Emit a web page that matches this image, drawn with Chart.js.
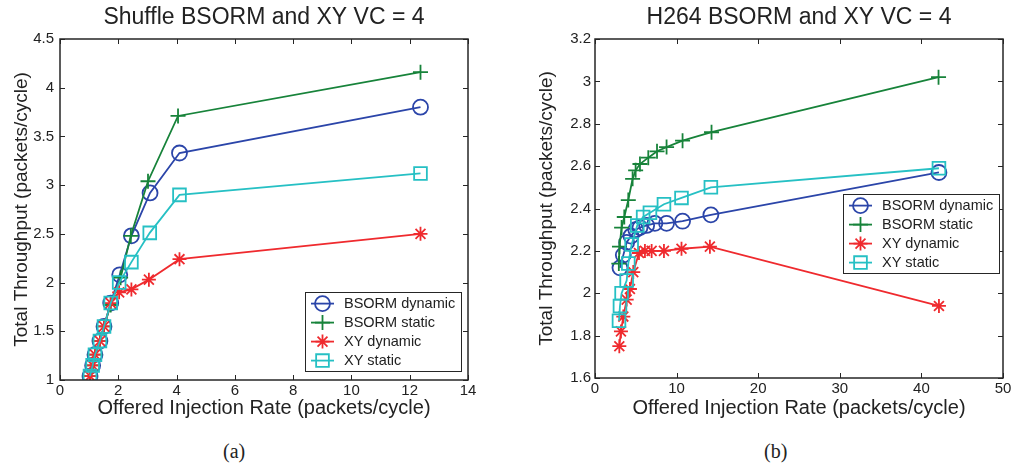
<!DOCTYPE html>
<html>
<head>
<meta charset="utf-8">
<script src="https://cdn.jsdelivr.net/npm/chart.js@4.4.1/dist/chart.umd.min.js"></script>
<style>
  body { margin: 0; background: #fff; width: 1015px; height: 467px; overflow: hidden; position: relative; }
  canvas { position: absolute; top: 0; }
  #shuffleChart { left: 0; }
  #h264Chart { left: 500px; }
  .cap { position: absolute; top: 440px; line-height: 24px; font: 20px "Liberation Serif", "Times New Roman", serif; color: #222; }
</style>
</head>
<body>
<canvas id="shuffleChart" width="500" height="430"></canvas>
<canvas id="h264Chart" width="515" height="430"></canvas>
<div class="cap" style="left:223px">(a)</div>
<div class="cap" style="left:764px">(b)</div>
<script>
// series names (legend order)
const seriesNames = ['BSORM dynamic', 'BSORM static', 'XY dynamic', 'XY static'];

// (a) Shuffle
const shuffleXTicks = [0, 2, 4, 6, 8, 10, 12, 14];
const shuffleYTicks = [1, 1.5, 2, 2.5, 3, 3.5, 4, 4.5];
const shuffleBsormDynX = [1.03, 1.12, 1.20, 1.37, 1.51, 1.74, 2.05, 2.45, 3.09, 4.10, 12.37];
const shuffleBsormDynY = [1.04, 1.15, 1.26, 1.40, 1.55, 1.79, 2.08, 2.48, 2.92, 3.33, 3.80];
const shuffleBsormStaX = [1.03, 1.12, 1.20, 1.37, 1.51, 1.74, 2.08, 2.43, 3.02, 4.05, 12.37];
const shuffleBsormStaY = [1.04, 1.15, 1.26, 1.40, 1.55, 1.77, 2.05, 2.48, 3.04, 3.71, 4.16];
const shuffleXyDynX = [1.03, 1.12, 1.20, 1.37, 1.51, 1.74, 2.03, 2.45, 3.05, 4.10, 12.37];
const shuffleXyDynY = [1.04, 1.15, 1.26, 1.40, 1.55, 1.79, 1.90, 1.93, 2.03, 2.24, 2.50];
const shuffleXyStaX = [1.03, 1.12, 1.20, 1.37, 1.51, 1.74, 2.03, 2.45, 3.08, 4.10, 12.37];
const shuffleXyStaY = [1.04, 1.15, 1.26, 1.40, 1.55, 1.79, 2.00, 2.21, 2.51, 2.90, 3.12];

// (b) H264
const h264XTicks = [0, 10, 20, 30, 40, 50];
const h264YTicks = [1.6, 1.8, 2, 2.2, 2.4, 2.6, 2.8, 3, 3.2];
const h264BsormDynX = [3.06, 3.47, 3.88, 4.41, 5.00, 5.51, 6.33, 7.34, 8.77, 10.73, 14.2, 42.15];
const h264BsormDynY = [2.12, 2.18, 2.24, 2.27, 2.30, 2.31, 2.32, 2.33, 2.33, 2.34, 2.37, 2.57];
const h264BsormStaX = [2.92, 3.00, 3.26, 3.59, 4.08, 4.61, 4.98, 5.51, 6.53, 7.60, 8.77, 10.73, 14.28, 42.1];
const h264BsormStaY = [2.14, 2.22, 2.31, 2.36, 2.44, 2.54, 2.58, 2.61, 2.64, 2.67, 2.69, 2.72, 2.76, 3.02];
const h264XyDynX = [2.98, 3.18, 3.47, 3.88, 4.28, 4.69, 5.39, 6.12, 6.94, 8.45, 10.6, 14.08, 42.15];
const h264XyDynY = [1.75, 1.82, 1.89, 1.97, 2.02, 2.10, 2.19, 2.20, 2.20, 2.20, 2.21, 2.22, 1.94];
const h264XyStaX = [2.94, 3.06, 3.26, 3.88, 4.08, 4.49, 5.18, 5.90, 6.73, 8.45, 10.6, 14.2, 42.15];
const h264XyStaY = [1.87, 1.94, 2.00, 2.06, 2.14, 2.23, 2.32, 2.36, 2.38, 2.42, 2.45, 2.50, 2.59];

const STYLE = [
    { color: '#2b45a9', marker: 'circle', r: 7.5 },
    { color: '#17833a', marker: 'cross', r: 7.5 },
    { color: '#ef2a2e', marker: 'star', r: 7 },
    { color: '#26c0c4', marker: 'rect', r: 9 }
];
const INK = '#222222';

Chart.defaults.font.family = '"Liberation Sans", Arial, Helvetica, sans-serif';
Chart.defaults.color = INK;

function makeDatasets(pairs) {
    return pairs.map((p, i) => ({
        label: seriesNames[i],
        data: p[0].map((x, k) => ({ x: x, y: p[1][k] })),
        showLine: true,
        tension: 0,
        borderColor: STYLE[i].color,
        backgroundColor: 'rgba(0,0,0,0)',
        borderWidth: 1.8,
        pointStyle: STYLE[i].marker,
        pointRadius: STYLE[i].r,
        pointHoverRadius: STYLE[i].r,
        pointBorderWidth: 1.8,
        pointBorderColor: STYLE[i].color,
        pointBackgroundColor: 'rgba(0,0,0,0)',
        order: 4 - i
    }));
}

// matlab-ish box, inward ticks and legend inside the axes
const matlabBox = {
    id: 'matlabBox',
    afterDraw(chart, args, opts) {
        const { ctx, chartArea: a, scales } = chart;
        ctx.save();
        ctx.strokeStyle = '#262626';
        ctx.lineWidth = 1;
        ctx.beginPath();
        scales.x.ticks.forEach(t => {
            const px = Math.round(scales.x.getPixelForValue(t.value)) + 0.5;
            ctx.moveTo(px, a.bottom); ctx.lineTo(px, a.bottom - 5);
            ctx.moveTo(px, a.top); ctx.lineTo(px, a.top + 5);
        });
        scales.y.ticks.forEach(t => {
            const py = Math.round(scales.y.getPixelForValue(t.value)) + 0.5;
            ctx.moveTo(a.left, py); ctx.lineTo(a.left + 5, py);
            ctx.moveTo(a.right, py); ctx.lineTo(a.right - 5, py);
        });
        ctx.stroke();
        ctx.lineWidth = 1.5;
        ctx.strokeRect(a.left, a.top, a.right - a.left, a.bottom - a.top);

        // legend
        const L = opts.legend;
        const w = 156, h = 79;
        const bx = a.right - L.dx - w;
        const by = L.anchor === 'top' ? a.top + L.dy : a.bottom - L.dy - h;
        ctx.fillStyle = '#fff';
        ctx.fillRect(bx, by, w, h);
        ctx.lineWidth = 1;
        ctx.strokeStyle = '#262626';
        ctx.strokeRect(Math.round(bx) + 0.5, Math.round(by) + 0.5, w, h);
        ctx.font = '14.5px "Liberation Sans", Arial, sans-serif';
        ctx.textBaseline = 'middle';
        ctx.textAlign = 'left';
        chart.data.datasets.forEach((ds, i) => {
            const cy = by + 11.6 + i * 19;
            ctx.strokeStyle = ds.borderColor;
            ctx.lineWidth = 1.8;
            ctx.beginPath();
            ctx.moveTo(bx + 6, cy); ctx.lineTo(bx + 29, cy);
            ctx.stroke();
            ctx.fillStyle = 'rgba(0,0,0,0)';
            Chart.helpers.drawPoint(ctx, {
                pointStyle: ds.pointStyle, radius: ds.pointRadius,
                rotation: 0, borderWidth: 1.8
            }, bx + 17.5, cy);
            ctx.fillStyle = INK;
            ctx.fillText(ds.label, bx + 39, cy);
        });
        ctx.restore();
    }
};

function buildChart(canvasId, cfg) {
    return new Chart(document.getElementById(canvasId), {
        type: 'scatter',
        data: { datasets: makeDatasets(cfg.series) },
        plugins: [matlabBox],
        options: {
            responsive: false,
            animation: false,
            events: [],
            devicePixelRatio: 1,
            layout: { padding: cfg.padding },
            plugins: {
                legend: { display: false },
                tooltip: { enabled: false },
                title: {
                    display: true,
                    text: cfg.title,
                    fullSize: false,
                    color: INK,
                    font: { size: 23, weight: 'normal' },
                    padding: { top: 4.2, bottom: 7.2 }
                },
                matlabBox: { legend: cfg.legend }
            },
            scales: {
                x: {
                    type: 'linear',
                    min: cfg.xTicks[0],
                    max: cfg.xTicks[cfg.xTicks.length - 1],
                    afterBuildTicks: s => { s.ticks = cfg.xTicks.map(v => ({ value: v })); },
                    afterFit: s => { s.height = 42; },
                    grid: { display: false, drawTicks: false },
                    border: { display: false },
                    ticks: { padding: 2, maxRotation: 0, autoSkip: false, font: { size: 15 }, color: INK, callback: v => String(v) },
                    title: {
                        display: true,
                        text: 'Offered Injection Rate (packets/cycle)',
                        color: INK,
                        font: { size: 20 },
                        padding: { top: 0, bottom: cfg.xTitlePad }
                    }
                },
                y: {
                    type: 'linear',
                    min: cfg.yTicks[0],
                    max: cfg.yTicks[cfg.yTicks.length - 1],
                    afterBuildTicks: s => { s.ticks = cfg.yTicks.map(v => ({ value: v })); },
                    afterFit: s => { s.width = cfg.yWidth; },
                    grid: { display: false, drawTicks: false },
                    border: { display: false },
                    ticks: { padding: cfg.yLabelPad, autoSkip: false, font: { size: 15 }, color: INK, callback: v => String(v) },
                    title: {
                        display: true,
                        text: 'Total Throughput (packets/cycle)',
                        color: INK,
                        font: { size: 19 },
                        padding: { top: cfg.yTitlePad, bottom: 0 }
                    }
                }
            }
        }
    });
}

buildChart('shuffleChart', {
    title: 'Shuffle BSORM and XY VC = 4',
    xTicks: shuffleXTicks,
    yTicks: shuffleYTicks,
    series: [
        [shuffleBsormDynX, shuffleBsormDynY],
        [shuffleBsormStaX, shuffleBsormStaY],
        [shuffleXyDynX, shuffleXyDynY],
        [shuffleXyStaX, shuffleXyStaY]
    ],
    padding: { left: 0, right: 32, top: 0, bottom: 8 },
    yWidth: 60,
    yLabelPad: 6,
    yTitlePad: 10.6,
    xTitlePad: 2,
    legend: { anchor: 'bottom', dx: 7, dy: 9 }
});

buildChart('h264Chart', {
    title: 'H264 BSORM and XY VC = 4',
    xTicks: h264XTicks,
    yTicks: h264YTicks,
    series: [
        [h264BsormDynX, h264BsormDynY],
        [h264BsormStaX, h264BsormStaY],
        [h264XyDynX, h264XyDynY],
        [h264XyStaX, h264XyStaY]
    ],
    padding: { left: 0, right: 12, top: 0, bottom: 10 },
    yWidth: 95,
    yLabelPad: 4,
    yTitlePad: 35.6,
    xTitlePad: 0,
    legend: { anchor: 'top', dx: 4, dy: 155 }
});
</script>
</body>
</html>
